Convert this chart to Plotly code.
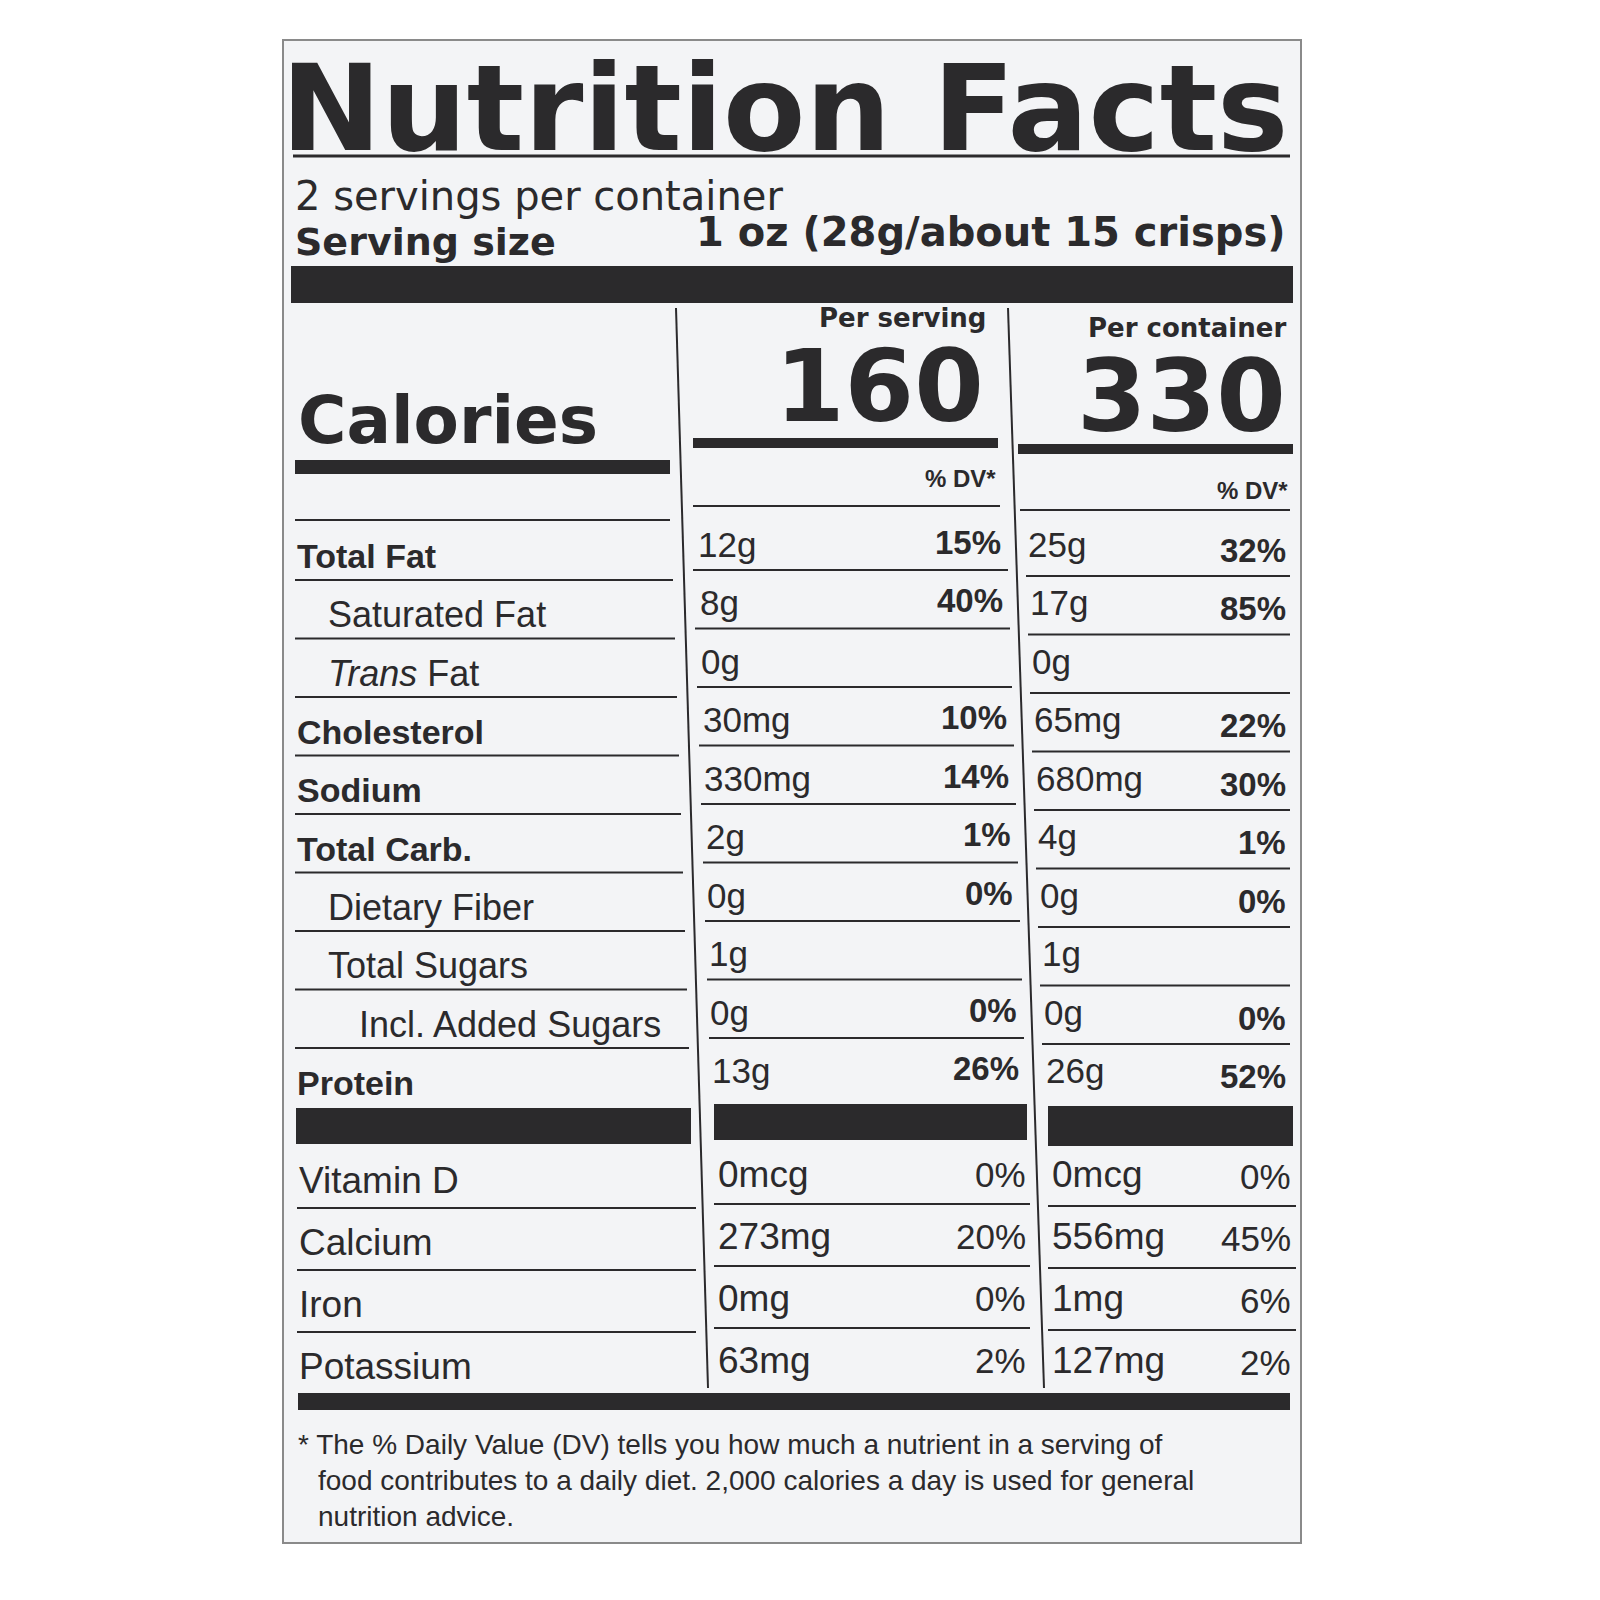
import plotly.graph_objects as go

# nutrient rows
nutrients = ["Total Fat", "Saturated Fat", "<i>Trans</i> Fat", "Cholesterol", "Sodium",
             "Total Carb.", "Dietary Fiber", "Total Sugars", "Incl. Added Sugars", "Protein"]
bold_rows = [True, False, False, True, True, True, False, False, False, True]
indent = [0, 1, 1, 0, 0, 0, 1, 1, 2, 0]
serv_amt = ["12g", "8g", "0g", "30mg", "330mg", "2g", "0g", "1g", "0g", "13g"]
serv_dv = ["15%", "40%", "", "10%", "14%", "1%", "0%", "", "0%", "26%"]
cont_amt = ["25g", "17g", "0g", "65mg", "680mg", "4g", "0g", "1g", "0g", "26g"]
cont_dv = ["32%", "85%", "", "22%", "30%", "1%", "0%", "", "0%", "52%"]

vitamins = ["Vitamin D", "Calcium", "Iron", "Potassium"]
vit_serv_amt = ["0mcg", "273mg", "0mg", "63mg"]
vit_serv_dv = ["0%", "20%", "0%", "2%"]
vit_cont_amt = ["0mcg", "556mg", "1mg", "127mg"]
vit_cont_dv = ["0%", "45%", "6%", "2%"]

calories_serv = "160"
calories_cont = "330"

INK = "#2b2a2c"
FONT = "Liberation Sans"

fig = go.Figure()
shapes = []
ann = []


def text(x, y, s, size, bold=False, anchor="left", family=FONT):
    ann.append(dict(x=x, y=y, text=f"<b>{s}</b>" if bold else s, showarrow=False,
                    xanchor=anchor, yanchor="middle",
                    font=dict(size=size, color=INK, family=family)))


def rule(x0, x1, y, w=2):
    shapes.append(dict(type="line", x0=x0, x1=x1, y0=y, y1=y, line=dict(color=INK, width=w)))


def bar(x0, x1, y0, y1):
    shapes.append(dict(type="rect", x0=x0, x1=x1, y0=y0, y1=y1, fillcolor=INK, line_width=0))


# panel
shapes.append(dict(type="rect", x0=275, x1=1293, y0=32, y1=1535,
                   fillcolor="#f3f4f6", line=dict(color="#8a8a8a", width=2), layer="below"))

# header
text(1283, 100, "Nutrition Facts", 120, bold=True, anchor="right", family="DejaVu Sans")
rule(285, 1282, 148, 3)
text(285, 188, "2 servings per container", 40, family="DejaVu Sans")
text(285, 234, "Serving size", 38, bold=True, family="DejaVu Sans")
text(1280, 224, "1 oz (28g/about 15 crisps)", 40, bold=True, anchor="right", family="DejaVu Sans")
bar(283, 1285, 258, 295)

# calories
text(288, 412, "Calories", 66, bold=True, family="DejaVu Sans")
bar(287, 662, 452, 466)
text(980, 310, "Per serving", 26, bold=True, anchor="right", family="DejaVu Sans")
text(978, 378, calories_serv, 100, bold=True, anchor="right", family="DejaVu Sans")
bar(685, 990, 430, 440)
text(1280, 320, "Per container", 26, bold=True, anchor="right", family="DejaVu Sans")
text(1280, 388, calories_cont, 100, bold=True, anchor="right", family="DejaVu Sans")
bar(1010, 1285, 436, 446)
text(990, 470, "% DV*", 24, bold=True, anchor="right")
text(1282, 482, "% DV*", 24, bold=True, anchor="right")
rule(287, 662, 512)
rule(685, 992, 498)
rule(1012, 1282, 502)

# column dividers
rule_v = [(668, 300, 700, 1380), (1000, 300, 1036, 1380)]
for x0, y0, x1, y1 in rule_v:
    shapes.append(dict(type="line", x0=x0, x1=x1, y0=y0, y1=y1, line=dict(color=INK, width=2)))

# nutrient rows
row0, step = 548, 58.5
for i, name in enumerate(nutrients):
    y = row0 + i * step
    text(287 + indent[i] * 31, y, name, 34 if bold_rows[i] else 36, bold=bold_rows[i])
    text(688 + i * 1.5, y - 12, serv_amt[i], 35)
    text(995 + i * 2, y - 14, serv_dv[i], 33, bold=True, anchor="right")
    text(1018 + i * 2, y - 12, cont_amt[i], 35)
    text(1280, y - 6, cont_dv[i], 33, bold=True, anchor="right")
    if i < len(nutrients) - 1:
        ys = y + 24
        rule(287, 665 + i * 2, ys)
        rule(685 + i * 2, 1000 + i * 2, ys - 10)
        rule(1018 + i * 2, 1282, ys - 4)

bar(288, 683, 1100, 1136)
bar(706, 1019, 1096, 1132)
bar(1040, 1285, 1098, 1138)

# vitamins
vrow0, vstep = 1172, 62
for i, name in enumerate(vitamins):
    y = vrow0 + i * vstep
    text(289, y, name, 37)
    text(708, y - 6, vit_serv_amt[i], 37)
    text(1020, y - 6, vit_serv_dv[i], 35, anchor="right")
    text(1042, y - 6, vit_cont_amt[i], 37)
    text(1285, y - 4, vit_cont_dv[i], 35, anchor="right")
    if i < len(vitamins) - 1:
        rule(289, 688, y + 28)
        rule(706, 1022, y + 24)
        rule(1040, 1288, y + 26)

bar(290, 1282, 1385, 1402)

foot = ["* The % Daily Value (DV) tells you how much a nutrient in a serving of",
        "food contributes to a daily diet. 2,000 calories a day is used for general",
        "nutrition advice."]
for i, line in enumerate(foot):
    text(288 if i == 0 else 308, 1436 + i * 36, line, 28)

fig.update_layout(width=1600, height=1600, margin=dict(l=0, r=0, t=0, b=0),
                  plot_bgcolor="white", paper_bgcolor="white",
                  shapes=shapes, annotations=ann, showlegend=False)
fig.update_xaxes(range=[0, 1600], visible=False)
fig.update_yaxes(range=[1600, 0], visible=False)
fig.write_html("out.html")
